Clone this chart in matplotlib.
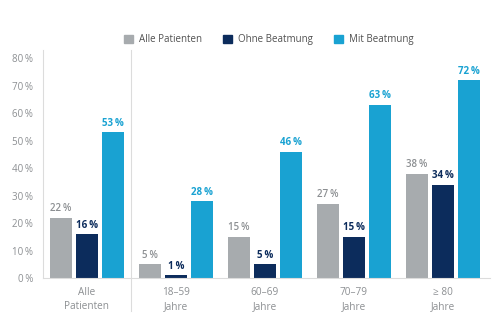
import numpy as np
import matplotlib.pyplot as plt
from matplotlib.patches import Patch

plt.rcParams['font.family'] = ['Open Sans', 'DejaVu Sans']

groups = ['Alle\nPatienten', '18–59\nJahre', '60–69\nJahre', '70–79\nJahre', '≥ 80\nJahre']
series = ['Alle Patienten', 'Ohne Beatmung', 'Mit Beatmung']
alle = [22, 5, 15, 27, 38]
ohne = [16, 1, 5, 15, 34]
mit = [53, 28, 46, 63, 72]
yticks = [0, 10, 20, 30, 40, 50, 60, 70, 80]

colors = ['#a7abae', '#0c2c5c', '#19a2d2']
label_colors = ['#8c8f92', '#0c2c5c', '#19a2d2']
label_weights = ['semibold', 'bold', 'bold']

fig = plt.figure(figsize=(5, 3.3), dpi=100)
ax = fig.add_axes([0.086, 0.157, 0.894, 0.692])

x = np.arange(len(groups))
w = 22 / 89
step = 26 / 89
for i, vals in enumerate([alle, ohne, mit]):
    pos = x + (i - 1) * step
    ax.bar(pos, vals, width=w, color=colors[i], label=series[i])
    for p, v in zip(pos, vals):
        ax.text(p, v + 1.3, f'{v}\u2009%', ha='center', va='bottom',
                fontsize=7, color=label_colors[i], fontweight=label_weights[i])

ax.set_xlim(-0.494, 4.53)
ax.set_ylim(0, 83)
ax.set_yticks(yticks)
ax.set_yticklabels([f'{t}\u2009%' for t in yticks], fontsize=7, color='#8c8f92')
ax.set_xticks(x)
ax.set_xticklabels(groups, fontsize=7.2, color='#8c8f92', linespacing=1.4)
ax.tick_params(length=0, pad=6)
ax.tick_params(axis='y', pad=7)

for s in ['top', 'right']:
    ax.spines[s].set_visible(False)
for s in ['left', 'bottom']:
    ax.spines[s].set_color('#dcdcdc')
    ax.spines[s].set_linewidth(0.8)

# divider between total and age groups
ax.plot([0.5, 0.5], [-12, 83], color='#dcdcdc', lw=0.8, clip_on=False)

handles = [Patch(color=c) for c in colors]
fig.legend(handles, series, loc='center', bbox_to_anchor=(0.538, 0.88), ncol=3,
           frameon=False, fontsize=7, labelcolor='#505050', handlelength=0.9,
           handleheight=0.9, handletextpad=0.6, columnspacing=2.2)

fig.savefig('out.png', dpi=100)
